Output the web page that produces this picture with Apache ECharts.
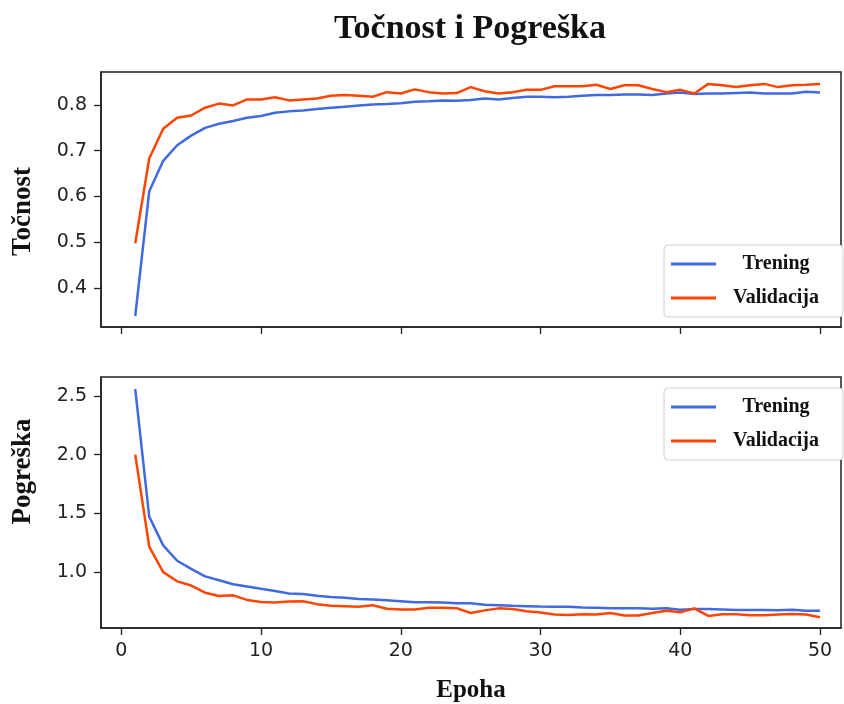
<!DOCTYPE html>
<html>
<head>
<meta charset="utf-8">
<script src="https://cdn.jsdelivr.net/npm/echarts@6/dist/echarts.min.js"></script>
<style>
  html, body { margin: 0; padding: 0; background: #fff; }
  #main { width: 844px; height: 704px; }
</style>
</head>
<body>
<div id="main"></div>
<script>
// podaci ocitani sa slike
var epohe = [];
for (var e = 1; e <= 50; e++) epohe.push(e);

var tocnostTrening = [0.339, 0.611, 0.678, 0.712, 0.733, 0.750, 0.759, 0.765, 0.772, 0.776,
  0.783, 0.786, 0.788, 0.791, 0.794, 0.796, 0.799, 0.801, 0.802, 0.804,
  0.807, 0.808, 0.810, 0.809, 0.811, 0.814, 0.812, 0.815, 0.818, 0.818,
  0.817, 0.818, 0.820, 0.822, 0.822, 0.823, 0.823, 0.822, 0.825, 0.827,
  0.824, 0.825, 0.825, 0.826, 0.827, 0.825, 0.825, 0.825, 0.829, 0.827];
var tocnostValidacija = [0.498, 0.683, 0.748, 0.772, 0.777, 0.794, 0.803, 0.799, 0.812, 0.812,
  0.817, 0.810, 0.812, 0.814, 0.820, 0.822, 0.820, 0.818, 0.828, 0.825,
  0.834, 0.828, 0.825, 0.826, 0.839, 0.830, 0.825, 0.828, 0.833, 0.833,
  0.841, 0.841, 0.841, 0.844, 0.835, 0.843, 0.843, 0.835, 0.828, 0.833,
  0.825, 0.846, 0.843, 0.839, 0.843, 0.846, 0.839, 0.843, 0.844, 0.846];
var pogreskaTrening = [2.556, 1.472, 1.228, 1.097, 1.028, 0.964, 0.931, 0.897, 0.878, 0.858,
  0.839, 0.819, 0.814, 0.800, 0.789, 0.783, 0.772, 0.767, 0.761, 0.753,
  0.744, 0.744, 0.742, 0.736, 0.736, 0.722, 0.719, 0.714, 0.711, 0.708,
  0.706, 0.706, 0.700, 0.697, 0.694, 0.692, 0.692, 0.689, 0.692, 0.681,
  0.686, 0.686, 0.683, 0.678, 0.678, 0.678, 0.675, 0.681, 0.672, 0.672];
var pogreskaValidacija = [2.000, 1.217, 1.000, 0.922, 0.886, 0.825, 0.797, 0.803, 0.764, 0.747,
  0.742, 0.750, 0.753, 0.728, 0.714, 0.711, 0.706, 0.719, 0.689, 0.683,
  0.683, 0.697, 0.697, 0.694, 0.653, 0.675, 0.692, 0.686, 0.667, 0.656,
  0.639, 0.636, 0.642, 0.639, 0.653, 0.631, 0.631, 0.653, 0.672, 0.658,
  0.692, 0.628, 0.642, 0.642, 0.633, 0.633, 0.639, 0.644, 0.639, 0.617];

var xTicks = [0, 10, 20, 30, 40, 50];
var tocnostTicks = [0.4, 0.5, 0.6, 0.7, 0.8];
var pogreskaTicks = [1.0, 1.5, 2.0, 2.5];

var imena = ['Trening', 'Validacija'];
var boje = ['#4169e1', '#ff4500'];

function parovi(vals) {
    return vals.map(function (v, i) { return [epohe[i], v]; });
}

var myChart = echarts.init(document.getElementById('main'));

var serif = '"Liberation Serif", "Times New Roman", serif';
var sans = '"DejaVu Sans", sans-serif';
var osLinija = { show: true, onZero: false, lineStyle: { color: '#222', width: 1.5 } };

function xOs(idx, labele) {
    return {
        type: 'value', gridIndex: idx, min: -1.45, max: 51.5,
        axisLine: osLinija,
        axisTick: { show: true, customValues: xTicks, length: 7, lineStyle: { color: '#222', width: 1.3 } },
        axisLabel: { show: labele, customValues: xTicks, margin: 14, color: '#222', fontSize: 19, fontFamily: sans },
        splitLine: { show: false },
        name: labele ? 'Epoha' : '',
        nameLocation: 'middle', nameGap: 50,
        nameTextStyle: { fontFamily: serif, fontWeight: 'bold', fontSize: 25, color: '#111' }
    };
}

function yOs(idx, min, max, ticks, ime, gap, pomak) {
    return {
        type: 'value', gridIndex: idx, min: min, max: max,
        axisLine: osLinija,
        axisTick: { show: true, customValues: ticks, length: 7, lineStyle: { color: '#222', width: 1.3 } },
        axisLabel: {
            customValues: ticks, margin: 14, color: '#222', fontSize: 19, fontFamily: sans,
            formatter: function (v) { return v.toFixed(1); }
        },
        splitLine: { show: false },
        name: ime, nameLocation: 'middle', nameGap: gap, nameRotate: 90,
        nameTextStyle: { fontFamily: serif, fontWeight: 'bold', fontSize: 27, color: '#111', padding: pomak }
    };
}

function legenda(top) {
    return {
        data: imena, orient: 'vertical', left: 664, top: top,
        itemWidth: 45, itemHeight: 3, itemGap: 14, icon: 'rect',
        padding: [9, 24, 9, 7],
        backgroundColor: '#fff', borderColor: '#d0d0d0', borderWidth: 1, borderRadius: 4,
        formatter: '{t|{name}}',
        textStyle: {
            rich: { t: { width: 110, align: 'center', fontFamily: serif, fontWeight: 'bold', fontSize: 20, color: '#111' } }
        }
    };
}

function serija(ime, boja, vals, idx) {
    return {
        name: ime, type: 'line', xAxisIndex: idx, yAxisIndex: idx,
        data: parovi(vals), symbol: 'none', silent: true,
        lineStyle: { color: boja, width: 2.5 }, itemStyle: { color: boja }
    };
}

option = {
    animation: false,
    title: {
        text: 'Točnost i Pogreška', left: 465, top: 7, textAlign: 'center',
        textStyle: { fontFamily: serif, fontWeight: 'bold', fontSize: 34, color: '#111' }
    },
    legend: [legenda(245), legenda(388)],
    grid: [
        { left: 101, top: 72, width: 740, height: 255, show: true, borderColor: '#222', borderWidth: 1.5 },
        { left: 101, top: 377, width: 740, height: 255, show: true, borderColor: '#222', borderWidth: 1.5 }
    ],
    xAxis: [xOs(0, false), xOs(1, true)],
    yAxis: [
        yOs(0, 0.315, 0.872, tocnostTicks, 'Točnost', 64, [0, 24, 0, 0]),
        yOs(1, 0.525, 2.66, pogreskaTicks, 'Pogreška', 64, [0, 0, 0, 62])
    ],
    series: [
        serija(imena[0], boje[0], tocnostTrening, 0),
        serija(imena[1], boje[1], tocnostValidacija, 0),
        serija(imena[0], boje[0], pogreskaTrening, 1),
        serija(imena[1], boje[1], pogreskaValidacija, 1)
    ]
};

myChart.setOption(option);
</script>
</body>
</html>
